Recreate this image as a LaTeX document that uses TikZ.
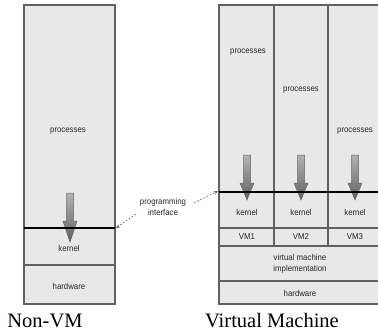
\documentclass[tikz,border=0pt]{standalone}
\usepackage{fontspec}
\setmainfont{Liberation Serif}
\newfontfamily\labfont{Liberation Sans}
\usetikzlibrary{arrows.meta}

% downward call arrow: x centre, top of shaft, head start, tip
\newcommand\sysarrow[4]{%
  \shade[callarrow] (#1-3.5,#2) -- (#1+3.5,#2) -- (#1+3.5,#3) -- (#1+7,#3)
    -- (#1,#4) -- (#1-7,#3) -- (#1-3.5,#3) -- cycle;}

\tikzset{
  layer/.style={fill=black!9, draw=black!62, line width=1.1pt},
  divider/.style={draw=black!62, line width=1.1pt},
  api/.style={draw=black, line width=1.8pt},
  lbl/.style={font=\labfont\fontsize{8.5}{12}\selectfont, text=black!85, inner sep=1pt, align=center, xscale=0.92},
  caption/.style={font=\fontsize{20.5}{24}\selectfont, anchor=base, inner sep=0pt},
  callarrow/.style={top color=black!30, bottom color=black!62, draw=black!60, line width=0.5pt},
  pointer/.style={dashed, dash pattern=on 2pt off 1.5pt, draw=black!60, line width=0.6pt,
    -{Stealth[length=4pt,width=3.5pt]}},
}

\begin{document}
\begin{tikzpicture}[x=1pt,y=-1pt]
\useasboundingbox (0,0) rectangle (378,333);
\clip (0,0) rectangle (378,333);

% ---- conventional machine ----
\draw[layer] (24,5) rectangle (115,304);
\draw[divider] (24,265) -- (115,265);
\node[lbl] (lproc) at (68,131) {processes};
\sysarrow{70}{193}{221}{242}
\draw[api] (24,228) -- (115,228);
\node[lbl] (lkern) at (69,248) {kernel};
\node[lbl] (lhw) at (69,286) {hardware};
\coordinate (lapi) at (116,228);

% ---- virtual machines ----
\draw[layer] (219,5) rectangle (392,304);
\draw[divider] (274,5) -- (274,246);
\draw[divider] (328,5) -- (328,246);
\draw[divider] (219,228) -- (392,228);
\draw[divider] (219,246) -- (392,246);
\draw[divider] (219,281) -- (392,281);
\node[lbl] (p1) at (248,52) {processes};
\node[lbl] (p2) at (301,90) {processes};
\node[lbl] (p3) at (355,131) {processes};
\sysarrow{247}{155}{183}{200}
\sysarrow{301}{155}{183}{200}
\sysarrow{355}{155}{183}{200}
\draw[api] (219,192) -- (392,192);
\node[lbl] (k1) at (247,212) {kernel};
\node[lbl] (k2) at (301,212) {kernel};
\node[lbl] (k3) at (355,212) {kernel};
\node[lbl] (vm1) at (247,237) {VM1};
\node[lbl] (vm2) at (301,237) {VM2};
\node[lbl] (vm3) at (355,237) {VM3};
\node[lbl] (vmi) at (300,264) {virtual machine\\[-1.5pt]implementation};
\node[lbl] (rhw) at (300,293) {hardware};
\coordinate (rapi) at (218,191);

% ---- programming interface ----
\node[lbl] (pi) at (163,207) {programming\\[-1pt]interface};
\coordinate (pil) at (136,214);
\coordinate (pir) at (194,203);
\draw[pointer] (pil) -- (lapi);
\draw[pointer] (pir) -- (rapi);

% ---- captions ----
\node[caption] (cap1) at (45,327) {Non-VM};
\node[caption] (cap2) at (272,327) {Virtual Machine};
\end{tikzpicture}
\end{document}
